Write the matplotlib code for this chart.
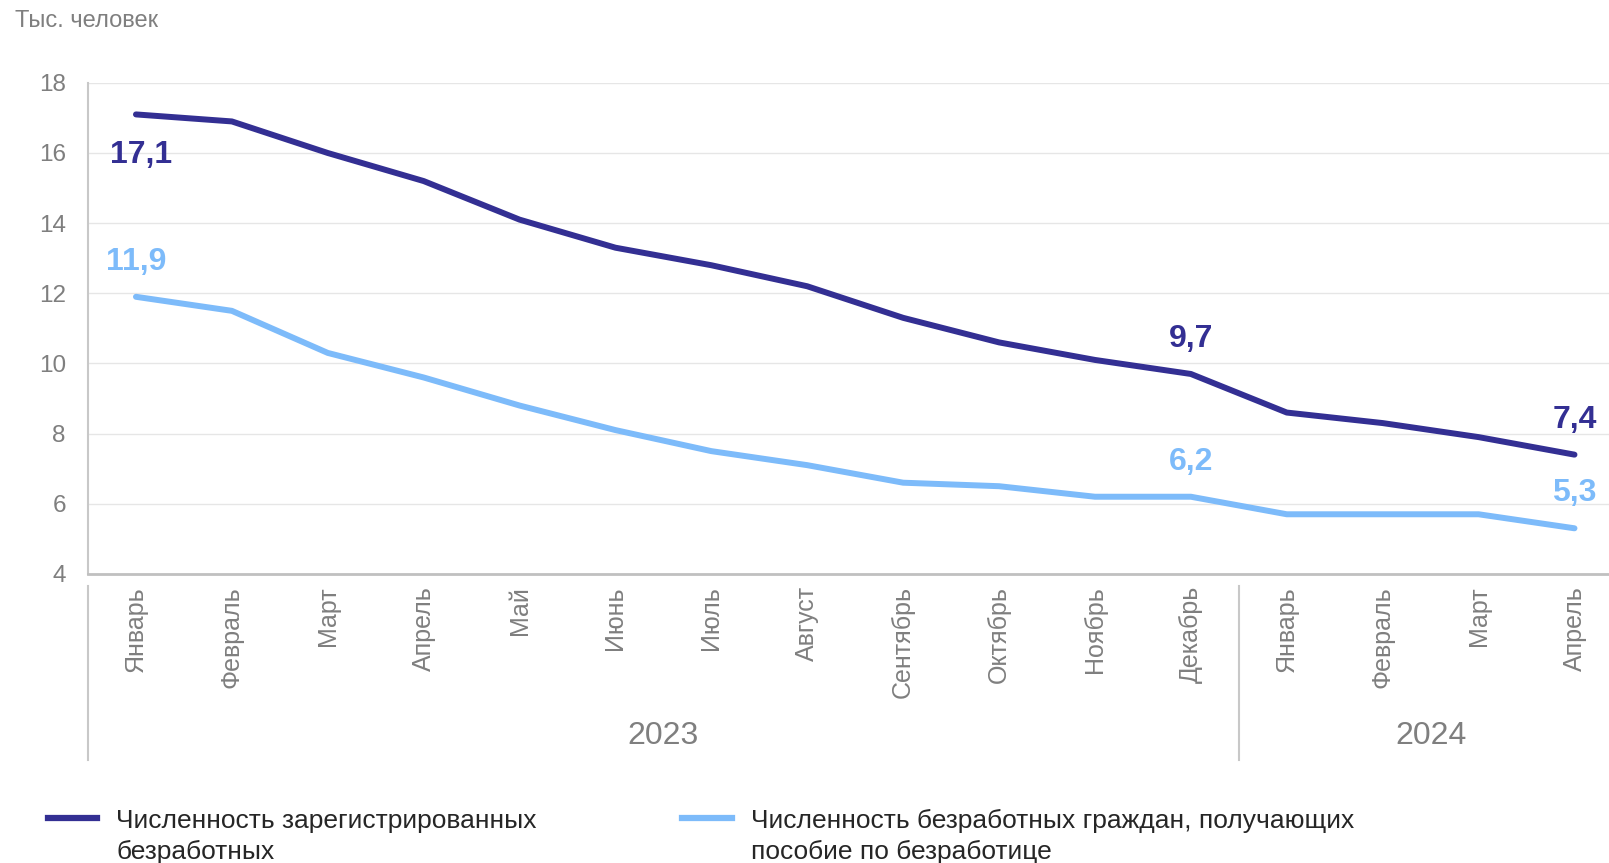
import matplotlib.pyplot as plt
import matplotlib.transforms as mtransforms
from matplotlib.lines import Line2D

plt.rcParams['font.family'] = ['Liberation Sans', 'DejaVu Sans']

months = ['Январь', 'Февраль', 'Март', 'Апрель', 'Май', 'Июнь', 'Июль', 'Август',
          'Сентябрь', 'Октябрь', 'Ноябрь', 'Декабрь',
          'Январь', 'Февраль', 'Март', 'Апрель']
years = ['2023', '2024']
year_len = [12, 4]

registered = [17.1, 16.9, 16.0, 15.2, 14.1, 13.3, 12.8, 12.2, 11.3, 10.6, 10.1, 9.7,
              8.6, 8.3, 7.9, 7.4]
benefit = [11.9, 11.5, 10.3, 9.6, 8.8, 8.1, 7.5, 7.1, 6.6, 6.5, 6.2, 6.2,
           5.7, 5.7, 5.7, 5.3]

label_reg = ['Численность зарегистрированных', 'безработных']
label_ben = ['Численность безработных граждан, получающих', 'пособие по безработице']

dark = '#332F93'
light = '#7DBBFA'
grey = '#7f7f7f'

W, H = 1609, 863
fig = plt.figure(figsize=(W / 100, H / 100), dpi=100)
ax = fig.add_axes([0.0547, 0.335, 0.9453, 0.569])

x = list(range(len(months)))
ax.plot(x, registered, color=dark, lw=4.3, solid_capstyle='round')
ax.plot(x, benefit, color=light, lw=4.3, solid_capstyle='round')

ax.set_xlim(-0.5, 15.36)
ax.set_ylim(4, 18)
ax.set_yticks(range(4, 19, 2))
ax.grid(axis='y', color='#e6e6e6', lw=1)
ax.set_axisbelow(True)
for s in ['top', 'right']:
    ax.spines[s].set_visible(False)
ax.spines['left'].set_color('#c8c8c8')
ax.spines['bottom'].set_color('#c0c0c0')
ax.spines['left'].set_linewidth(1.5)
ax.spines['bottom'].set_linewidth(2)
ax.tick_params(axis='y', length=0, labelsize=17.5, labelcolor=grey, pad=16)
ax.set_xticks([])

# month labels and year groups below the axis
tr = mtransforms.blended_transform_factory(ax.transData, ax.transAxes)
for i, m in enumerate(months):
    ax.text(i, -0.025, m, rotation=90, ha='center', va='top', fontsize=18,
            color=grey, transform=tr)
start = -0.5
for y, n in zip(years, year_len):
    ax.plot([start, start], [-0.024, -0.38], color='#c8c8c8', lw=1.5,
            transform=tr, clip_on=False)
    ax.text(start + n / 2, -0.33, y, ha='center', va='center', fontsize=23,
            color=grey, transform=tr)
    start += n

# value labels
for i, dy_r, dy_b in [(0, -1.15, 1.0), (11, 1.0, 1.0), (15, 1.0, 1.0)]:
    ax.text(i + (0.05 if i == 0 else 0), registered[i] + dy_r, f'{registered[i]:.1f}'.replace('.', ','),
            ha='center', va='center', fontsize=23, fontweight='bold', color=dark)
    ax.text(i, benefit[i] + dy_b, f'{benefit[i]:.1f}'.replace('.', ','),
            ha='center', va='center', fontsize=23, fontweight='bold', color=light)

fig.text(15 / W, 1 - 21 / H, 'Тыс. человек', fontsize=17, color=grey, ha='left', va='center')

# legend drawn by hand so the handle sits on the first text line
for (x0, x1, tx), col, lines in [((48, 97, 116), dark, label_reg),
                                 ((682, 732, 751), light, label_ben)]:
    fig.add_artist(Line2D([x0 / W, x1 / W], [1 - 818 / H, 1 - 818 / H],
                          color=col, lw=4.5, transform=fig.transFigure))
    for k, line in enumerate(lines):
        fig.text(tx / W, 1 - (818 + 31 * k) / H, line, fontsize=19, color='#262626',
                 ha='left', va='center_baseline')

fig.savefig('out.png', dpi=100)
